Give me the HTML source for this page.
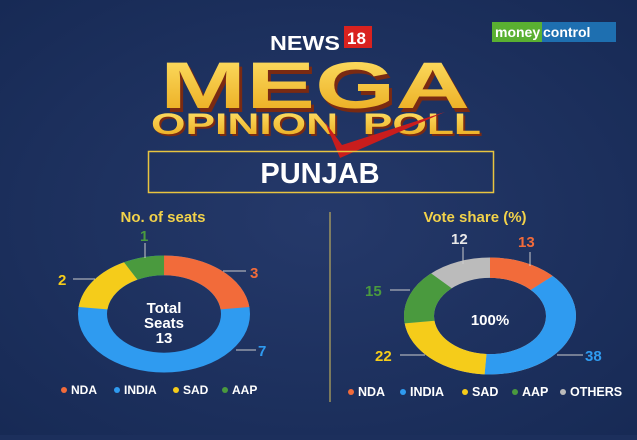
<!DOCTYPE html>
<html><head><style>
body{margin:0;width:637px;height:435px;overflow:hidden;background:#1c2f5c;font-family:"Liberation Sans",sans-serif;}
</style></head><body>
<svg width="637" height="435" viewBox="0 0 637 435" xmlns="http://www.w3.org/2000/svg">
<defs>
<radialGradient id="bg" cx="50%" cy="50%" r="70%"><stop offset="0" stop-color="#25396a"/><stop offset="1" stop-color="#172a55"/></radialGradient>
<linearGradient id="gold" x1="0" y1="0" x2="0" y2="1"><stop offset="0" stop-color="#ffe36a"/><stop offset="1" stop-color="#e9a719"/></linearGradient>
</defs>
<rect width="637" height="435" fill="url(#bg)"/>
<rect x="492" y="22" width="50" height="20" fill="#5ab031"/>
<rect x="542" y="22" width="74" height="20" fill="#1e6fb0"/>
<text x="495" y="37" font-size="14" font-weight="bold" fill="#fff">money</text>
<text x="543" y="37" font-size="14" font-weight="bold" fill="#fff">control</text>
<text x="270" y="50" font-size="20" font-weight="bold" fill="#fff" textLength="70" lengthAdjust="spacingAndGlyphs">NEWS</text>
<rect x="344" y="26" width="28" height="22" fill="#d9221f"/>
<text x="347" y="44" font-size="17" font-weight="bold" fill="#fff">18</text>
<text x="318" y="112" text-anchor="middle" font-size="66" font-weight="900" fill="#7a2a12" textLength="310" lengthAdjust="spacingAndGlyphs">MEGA</text>
<text x="315" y="108" text-anchor="middle" font-size="66" font-weight="900" fill="url(#gold)" textLength="310" lengthAdjust="spacingAndGlyphs">MEGA</text>
<text x="318" y="136" text-anchor="middle" font-size="30" font-weight="900" fill="#7a2a12" textLength="330" lengthAdjust="spacingAndGlyphs">OPINION&#160;&#160;POLL</text>
<text x="316" y="134" text-anchor="middle" font-size="30" font-weight="900" fill="url(#gold)" textLength="330" lengthAdjust="spacingAndGlyphs">OPINION&#160;&#160;POLL</text>
<path d="M325 122 L340 158 L445 112 L342 145 Z" fill="#c91d1d"/>
<rect x="148.5" y="151.5" width="345" height="41" fill="none" stroke="#e8c440" stroke-width="1.5"/>
<text x="320" y="183" text-anchor="middle" font-size="29" font-weight="bold" fill="#fff">PUNJAB</text>
<line x1="330" y1="212" x2="330" y2="402" stroke="#d9c25a" stroke-width="1"/>
<text x="163" y="222" text-anchor="middle" font-size="15" font-weight="bold" fill="#f2d24a">No. of seats</text>
<text x="475" y="222" text-anchor="middle" font-size="15" font-weight="bold" fill="#f2d24a">Vote share (%)</text>
<g transform="translate(164,314) scale(1,0.68)">
<circle r="71.5" fill="none" stroke="#2f9bf0" stroke-width="29"/>
<circle r="71.5" fill="none" stroke="#f26b3a" stroke-width="29" stroke-dasharray="103.7 1000" transform="rotate(-90)"/>
<circle r="71.5" fill="none" stroke="#f5cc1a" stroke-width="29" stroke-dasharray="69.1 1000" transform="rotate(186.9)"/>
<circle r="71.5" fill="none" stroke="#4a9a3e" stroke-width="29" stroke-dasharray="34.6 1000" transform="rotate(242.3)"/>
</g>
<text x="164" y="313" text-anchor="middle" font-size="15" font-weight="bold" fill="#fff">Total</text>
<text x="164" y="328" text-anchor="middle" font-size="15" font-weight="bold" fill="#fff">Seats</text>
<text x="164" y="343" text-anchor="middle" font-size="15" font-weight="bold" fill="#fff">13</text>
<g stroke="#ccc" stroke-width="1"><line x1="223" y1="271" x2="246" y2="271"/><line x1="236" y1="350" x2="256" y2="350"/><line x1="73" y1="279" x2="95" y2="279"/><line x1="145" y1="243" x2="145" y2="258"/></g>
<text x="250" y="278" font-size="15" font-weight="bold" fill="#f26b3a">3</text>
<text x="258" y="356" font-size="15" font-weight="bold" fill="#2f9bf0">7</text>
<text x="58" y="285" font-size="15" font-weight="bold" fill="#f5cc1a">2</text>
<text x="140" y="241" font-size="15" font-weight="bold" fill="#4a9a3e">1</text>
<g transform="translate(490,316) scale(1,0.68)">
<circle r="71" fill="none" stroke="#bbbbbb" stroke-width="30"/>
<circle r="71" fill="none" stroke="#f26b3a" stroke-width="30" stroke-dasharray="58 1000" transform="rotate(-90)"/>
<circle r="71" fill="none" stroke="#2f9bf0" stroke-width="30" stroke-dasharray="169.5 1000" transform="rotate(-43.2)"/>
<circle r="71" fill="none" stroke="#f5cc1a" stroke-width="30" stroke-dasharray="98.1 1000" transform="rotate(93.6)"/>
<circle r="71" fill="none" stroke="#4a9a3e" stroke-width="30" stroke-dasharray="66.9 1000" transform="rotate(172.8)"/>
</g>
<text x="490" y="325" text-anchor="middle" font-size="15" font-weight="bold" fill="#fff">100%</text>
<g stroke="#ccc" stroke-width="1"><line x1="530" y1="252" x2="530" y2="266"/><line x1="463" y1="247" x2="463" y2="264"/><line x1="390" y1="290" x2="410" y2="290"/><line x1="400" y1="355" x2="425" y2="355"/><line x1="557" y1="355" x2="583" y2="355"/></g>
<text x="518" y="247" font-size="15" font-weight="bold" fill="#f26b3a">13</text>
<text x="451" y="244" font-size="15" font-weight="bold" fill="#e8e8e8">12</text>
<text x="365" y="296" font-size="15" font-weight="bold" fill="#4a9a3e">15</text>
<text x="375" y="361" font-size="15" font-weight="bold" fill="#f5cc1a">22</text>
<text x="585" y="361" font-size="15" font-weight="bold" fill="#2f9bf0">38</text>
<g font-size="12" font-weight="bold" fill="#fff">
<circle cx="64" cy="390" r="3" fill="#f26b3a"/><text x="71" y="394">NDA</text>
<circle cx="117" cy="390" r="3" fill="#2f9bf0"/><text x="124" y="394">INDIA</text>
<circle cx="176" cy="390" r="3" fill="#f5cc1a"/><text x="183" y="394">SAD</text>
<circle cx="225" cy="390" r="3" fill="#4a9a3e"/><text x="232" y="394">AAP</text>
</g>
<g font-size="12.5" font-weight="bold" fill="#fff">
<circle cx="351" cy="392" r="3" fill="#f26b3a"/><text x="358" y="396">NDA</text>
<circle cx="403" cy="392" r="3" fill="#2f9bf0"/><text x="410" y="396">INDIA</text>
<circle cx="465" cy="392" r="3" fill="#f5cc1a"/><text x="472" y="396">SAD</text>
<circle cx="515" cy="392" r="3" fill="#4a9a3e"/><text x="522" y="396">AAP</text>
<circle cx="563" cy="392" r="3" fill="#bbbbbb"/><text x="570" y="396">OTHERS</text>
</g>
</svg>
</body></html>
